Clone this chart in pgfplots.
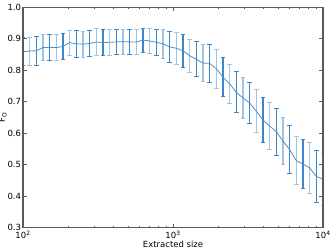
\documentclass[border=0pt]{standalone}
\usepackage{pgfplots}
\pgfplotsset{compat=1.18}
\usepackage{pgfplotstable}
\usepackage{fontspec}
\setmainfont{DejaVu Sans}
\definecolor{bardark}{RGB}{61,133,198}
\definecolor{barlight}{RGB}{160,197,228}
\definecolor{linecol}{RGB}{76,143,201}
\definecolor{framecol}{RGB}{90,90,90}
% full line
\pgfplotstableread{
x y
100 0.859
110.78 0.861
122.71 0.862
135.94 0.872
150.59 0.873
166.81 0.872
184.79 0.876
204.70 0.888
226.76 0.884
251.19 0.883
278.26 0.885
308.24 0.890
341.45 0.888
378.25 0.889
419.01 0.890
464.16 0.891
514.17 0.890
569.57 0.890
630.96 0.896
698.94 0.893
774.26 0.889
857.70 0.884
950.12 0.874
1052.48 0.870
1165.91 0.862
1291.55 0.846
1430.72 0.835
1584.89 0.823
1755.68 0.822
1944.86 0.805
2154.43 0.778
2386.59 0.757
2643.79 0.730
2928.64 0.712
3244.23 0.696
3593.81 0.670
3981.07 0.642
4410.03 0.623
4885.28 0.605
5411.70 0.575
5994.84 0.548
6640.75 0.513
7356.42 0.502
8149.07 0.490
9027.18 0.463
10000 0.454
}\linetable
% error bars, even points (dark)
\pgfplotstableread{
x y e
100 0.859 0.045
122.71 0.862 0.045
150.59 0.873 0.042
184.79 0.876 0.040
226.76 0.884 0.042
278.26 0.885 0.042
341.45 0.888 0.041
419.01 0.890 0.041
514.17 0.890 0.039
630.96 0.896 0.038
774.26 0.889 0.042
950.12 0.874 0.048
1165.91 0.862 0.052
1430.72 0.835 0.056
1755.68 0.822 0.060
2154.43 0.778 0.062
2643.79 0.730 0.065
3244.23 0.696 0.066
3981.07 0.642 0.072
4885.28 0.605 0.075
5994.84 0.548 0.076
7356.42 0.502 0.078
9027.18 0.463 0.082
}\darktable
% error bars, odd points (light)
\pgfplotstableread{
x y e
110.78 0.861 0.044
135.94 0.872 0.042
166.81 0.872 0.041
204.70 0.888 0.040
251.19 0.883 0.042
308.24 0.890 0.043
378.25 0.889 0.041
464.16 0.891 0.040
569.57 0.890 0.039
698.94 0.893 0.040
857.70 0.884 0.046
1052.48 0.870 0.050
1291.55 0.846 0.053
1584.89 0.823 0.058
1944.86 0.805 0.061
2386.59 0.757 0.063
2928.64 0.712 0.066
3593.81 0.670 0.068
4410.03 0.623 0.074
5411.70 0.575 0.075
6640.75 0.513 0.077
8149.07 0.490 0.080
10000 0.454 0.083
}\lighttable
\begin{document}
\begin{tikzpicture}
\useasboundingbox (0,0) rectangle (332bp,251bp);
\begin{axis}[
  at={(23bp,23.3bp)}, anchor=south west,
  scale only axis, width=300bp, height=220.4bp,
  xmode=log, xmin=100, xmax=10000,
  ymin=0.3, ymax=1.0,
  xtick={100,1000,10000},
  xticklabels={10\textsuperscript{2},10\textsuperscript{3},10\textsuperscript{4}},
  ytick={0.3,0.4,0.5,0.6,0.7,0.8,0.9,1.0},
  yticklabels={0.3,0.4,0.5,0.6,0.7,0.8,0.9,1.0},
  tick label style={font=\fontsize{8.5}{9}\selectfont, text=black},
  label style={font=\fontsize{8.5}{9}\selectfont},
  xlabel={Extracted size},
  ylabel={F\textsubscript{O}},
  xlabel style={yshift=4bp},
  ylabel style={yshift=-6bp},
  tick align=inside, tick pos=both,
  major tick length=4bp, minor tick length=2bp,
  every tick/.style={framecol, line width=0.6bp},
  axis line style={framecol, line width=1.2bp},
  yticklabel style={xshift=1.5bp},
  axis on top,
]
\addplot[draw=none, mark=none, forget plot,
  error bars/.cd, y dir=both, y explicit,
  error bar style={color=bardark, line width=1.2bp},
  error mark options={color=bardark, line width=0.8bp, mark size=2.3bp, rotate=90}]
  table[x=x, y=y, y error=e] {\darktable};
\addplot[draw=none, mark=none, forget plot,
  error bars/.cd, y dir=both, y explicit,
  error bar style={color=barlight, line width=1.5bp},
  error mark options={color=barlight, line width=0.8bp, mark size=2.3bp, rotate=90}]
  table[x=x, y=y, y error=e] {\lighttable};
\addplot[linecol, line width=0.8bp, mark=none] table[x=x, y=y] {\linetable};
\end{axis}
\end{tikzpicture}
\end{document}
